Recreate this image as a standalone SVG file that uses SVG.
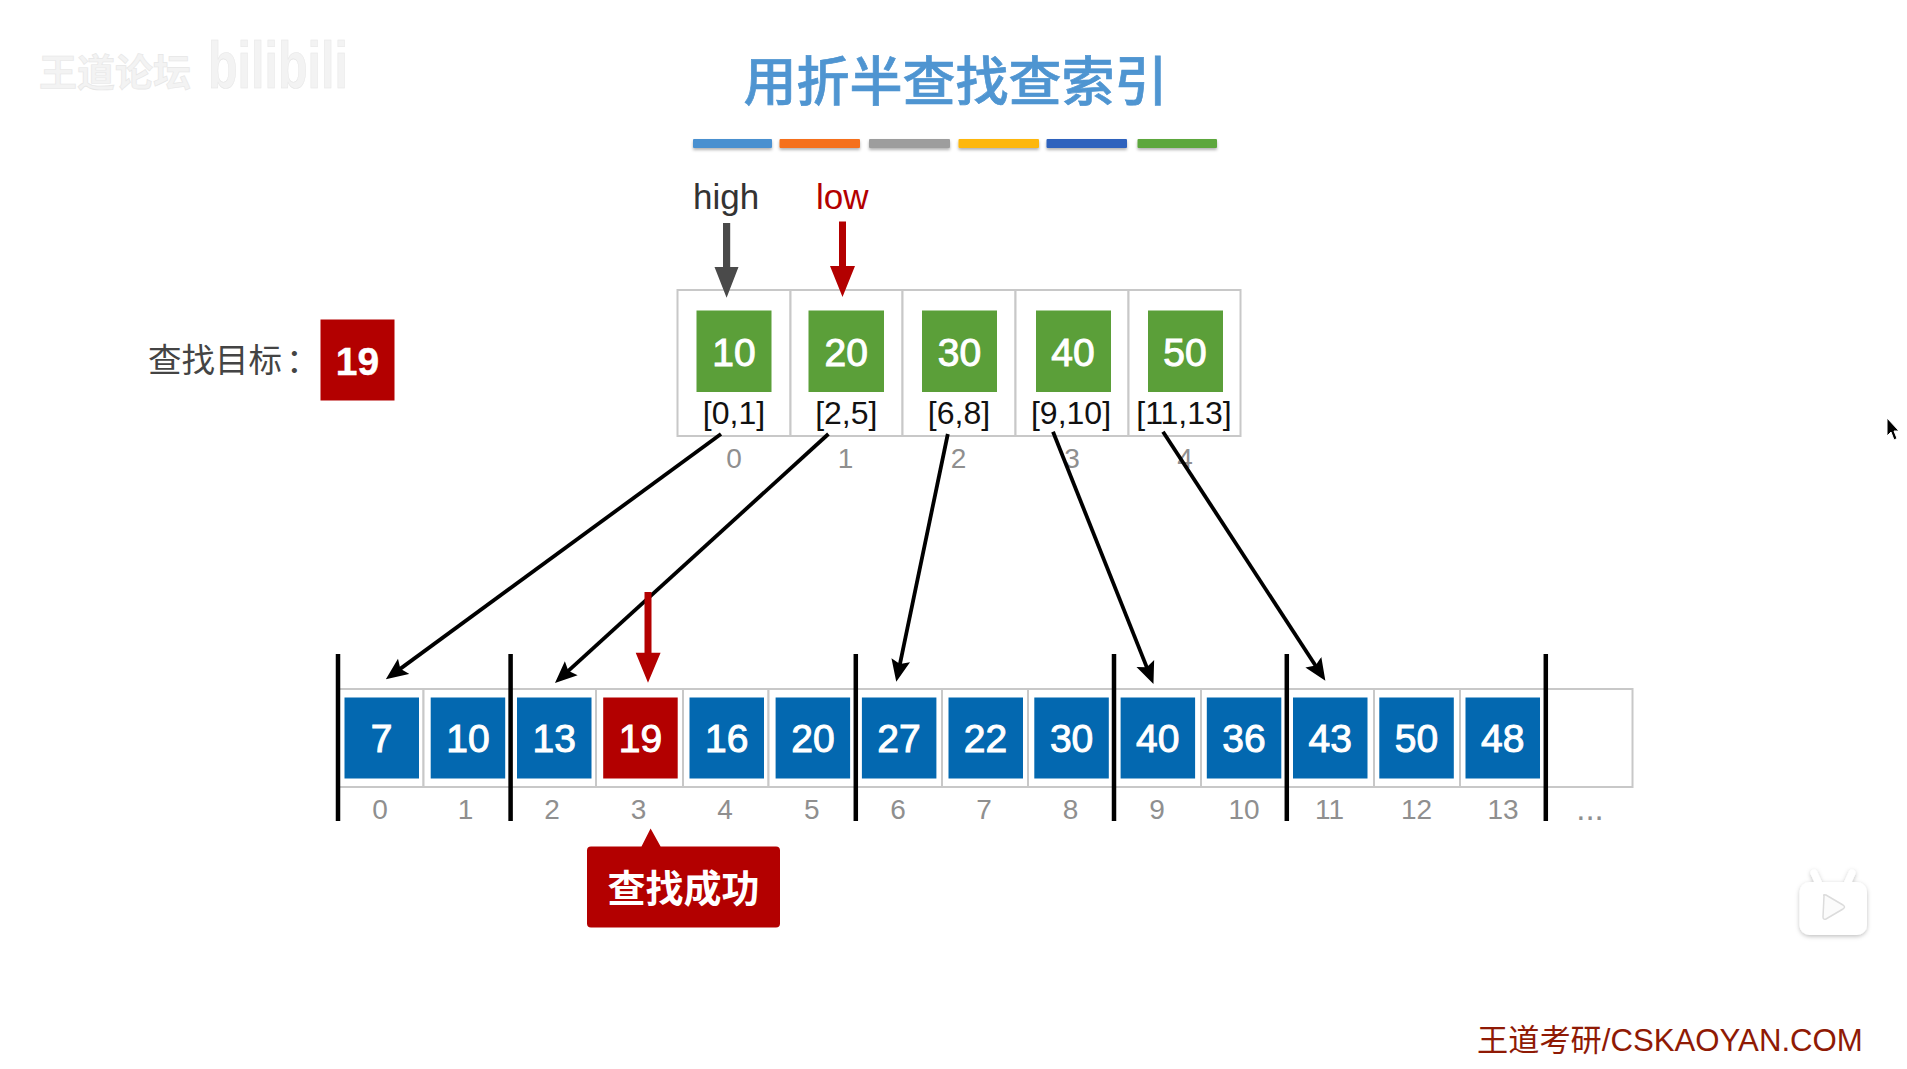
<svg xmlns="http://www.w3.org/2000/svg" width="1907" height="1069" viewBox="0 0 1907 1069">
<style>
text{font-family:"Liberation Sans","Noto Sans CJK SC",sans-serif}
.cjk{font-family:"Noto Sans CJK SC","Liberation Sans",sans-serif}
.cell{fill:#fff;stroke:#c8c8c8;stroke-width:2}
.g{fill:#5b9f39}
.b{fill:#0368b0}
.r{fill:#b30000}
.v{fill:#fff;stroke:#fff;stroke-width:1;font-size:39px;text-anchor:middle}
.rng{fill:#111;font-size:32px;text-anchor:middle}
.idx{fill:#8f8f8f;font-size:28px;text-anchor:middle}
.sep{stroke:#000;stroke-width:4.5;fill:none}
.link{stroke:#000;stroke-width:3.8;fill:none;marker-end:url(#head)}
.wm{fill:#f3f3f3;stroke:#e6e6e6;stroke-width:.6}
</style>
<defs>
<marker id="head" markerUnits="userSpaceOnUse" viewBox="0 -10 22 20" markerWidth="22" markerHeight="20" refX="14" refY="0" orient="auto">
<path d="M0,-9.5 L22,0 L0,9.5 L4,0 Z" fill="#000"/>
</marker>
<filter id="sh" x="-10%" y="-50%" width="120%" height="250%"><feDropShadow dx="0" dy="2" stdDeviation="1.5" flood-color="#000" flood-opacity=".3"/></filter>
<filter id="soft" x="-20%" y="-20%" width="140%" height="140%"><feDropShadow dx="0" dy="1.5" stdDeviation="2" flood-color="#000" flood-opacity=".25"/></filter>
</defs>
<rect width="1907" height="1069" fill="#fff"/>

<g id="watermark">
<text class="cjk wm" x="39" y="86" font-size="38" font-weight="bold">王道论坛</text>
<text class="wm" x="208" y="88" font-size="66" font-weight="bold" textLength="140" lengthAdjust="spacingAndGlyphs">bilibili</text>
</g>

<g id="title">
<text class="cjk" x="955.5" y="101" font-size="53" font-weight="500" fill="#4f95d1" stroke="#4f95d1" stroke-width=".7" text-anchor="middle">用折半查找查索引</text>
</g>

<g id="title-bars" filter="url(#sh)">
<rect x="693" y="139" width="79" height="9" rx="1" fill="#4a90d0"/>
<rect x="779.5" y="139" width="80.5" height="9" rx="1" fill="#f5701a"/>
<rect x="869" y="139" width="81" height="9" rx="1" fill="#9d9d9d"/>
<rect x="958.5" y="139" width="80.5" height="9" rx="1" fill="#fdb70d"/>
<rect x="1046.5" y="139" width="80.5" height="9" rx="1" fill="#2d62bd"/>
<rect x="1137.5" y="139" width="79.5" height="9" rx="1" fill="#5da73c"/>
</g>

<g id="target">
<text class="cjk" x="148" y="372" font-size="33.5" fill="#444">查找目标<tspan dx="4">：</tspan></text>
<rect x="320.5" y="319.5" width="74" height="81" class="r"/>
<text class="v" x="357.5" y="375" style="font-weight:bold;stroke-width:.4">19</text>
</g>

<g id="index-table">
<g id="idx-0"><rect class="cell" x="677.5" y="290" width="113" height="146"/><rect class="g" x="696.5" y="310.5" width="75" height="81.5"/><text class="v" x="734" y="366">10</text><text class="rng" x="734" y="424">[0,1]</text><text class="idx" x="734" y="468">0</text></g>
<g id="idx-1"><rect class="cell" x="790.5" y="290" width="112" height="146"/><rect class="g" x="808.5" y="310.5" width="75.5" height="81.5"/><text class="v" x="846.3" y="366">20</text><text class="rng" x="846.3" y="424">[2,5]</text><text class="idx" x="845.5" y="468">1</text></g>
<g id="idx-2"><rect class="cell" x="902.5" y="290" width="113" height="146"/><rect class="g" x="922" y="310.5" width="75" height="81.5"/><text class="v" x="959.5" y="366">30</text><text class="rng" x="959" y="424">[6,8]</text><text class="idx" x="958.5" y="468">2</text></g>
<g id="idx-3"><rect class="cell" x="1015.5" y="290" width="113" height="146"/><rect class="g" x="1036" y="310.5" width="75" height="81.5"/><text class="v" x="1073" y="366">40</text><text class="rng" x="1071" y="424">[9,10]</text><text class="idx" x="1072" y="468">3</text></g>
<g id="idx-4"><rect class="cell" x="1128.5" y="290" width="112" height="146"/><rect class="g" x="1148" y="310.5" width="75" height="81.5"/><text class="v" x="1185" y="366">50</text><text class="rng" x="1184" y="424">[11,13]</text><text class="idx" x="1185" y="468">4</text></g>
</g>

<g id="array">
<g id="a0"><rect class="cell" x="338" y="689" width="85.5" height="98"/><rect class="b" x="344.5" y="697.5" width="74.5" height="81"/><text class="v" x="381.7" y="752">7</text><text class="idx" x="380" y="819">0</text></g>
<g id="a1"><rect class="cell" x="423.5" y="689" width="87" height="98"/><rect class="b" x="430.7" y="697.5" width="74.5" height="81"/><text class="v" x="468" y="752">10</text><text class="idx" x="465.5" y="819">1</text></g>
<g id="a2"><rect class="cell" x="510.5" y="689" width="85.5" height="98"/><rect class="b" x="517" y="697.5" width="74.5" height="81"/><text class="v" x="554.2" y="752">13</text><text class="idx" x="552" y="819">2</text></g>
<g id="a3"><rect class="cell" x="596" y="689" width="87" height="98"/><rect class="r" x="603.2" y="697.5" width="74.5" height="81"/><text class="v" x="640.5" y="752">19</text><text class="idx" x="638.5" y="819">3</text></g>
<g id="a4"><rect class="cell" x="683" y="689" width="85.5" height="98"/><rect class="b" x="689.5" y="697.5" width="74.5" height="81"/><text class="v" x="726.7" y="752">16</text><text class="idx" x="725" y="819">4</text></g>
<g id="a5"><rect class="cell" x="768.5" y="689" width="87.5" height="98"/><rect class="b" x="775.6" y="697.5" width="74.5" height="81"/><text class="v" x="812.9" y="752">20</text><text class="idx" x="811.8" y="819">5</text></g>
<g id="a6"><rect class="cell" x="856" y="689" width="86" height="98"/><rect class="b" x="861.9" y="697.5" width="74.5" height="81"/><text class="v" x="899" y="752">27</text><text class="idx" x="898" y="819">6</text></g>
<g id="a7"><rect class="cell" x="942" y="689" width="86" height="98"/><rect class="b" x="948.5" y="697.5" width="74.5" height="81"/><text class="v" x="985.4" y="752">22</text><text class="idx" x="984" y="819">7</text></g>
<g id="a8"><rect class="cell" x="1028" y="689" width="86" height="98"/><rect class="b" x="1034.3" y="697.5" width="74.5" height="81"/><text class="v" x="1071.6" y="752">30</text><text class="idx" x="1070.5" y="819">8</text></g>
<g id="a9"><rect class="cell" x="1114" y="689" width="87" height="98"/><rect class="b" x="1120.6" y="697.5" width="74.5" height="81"/><text class="v" x="1157.8" y="752">40</text><text class="idx" x="1157" y="819">9</text></g>
<g id="a10"><rect class="cell" x="1201" y="689" width="86" height="98"/><rect class="b" x="1206.8" y="697.5" width="74.5" height="81"/><text class="v" x="1244" y="752">36</text><text class="idx" x="1244" y="819">10</text></g>
<g id="a11"><rect class="cell" x="1287" y="689" width="87" height="98"/><rect class="b" x="1293" y="697.5" width="74.5" height="81"/><text class="v" x="1330.3" y="752">43</text><text class="idx" x="1329.5" y="819">11</text></g>
<g id="a12"><rect class="cell" x="1374" y="689" width="86" height="98"/><rect class="b" x="1379.3" y="697.5" width="74.5" height="81"/><text class="v" x="1416.5" y="752">50</text><text class="idx" x="1416.5" y="819">12</text></g>
<g id="a13"><rect class="cell" x="1460" y="689" width="86" height="98"/><rect class="b" x="1465.5" y="697.5" width="74.5" height="81"/><text class="v" x="1502.8" y="752">48</text><text class="idx" x="1503" y="819">13</text></g>
<g id="a14"><rect class="cell" x="1546" y="689" width="86.5" height="98"/><text class="idx" x="1590" y="820" style="font-size:33px">...</text></g>
</g>

<g id="connectors">
<path class="sep" d="M338,654V821M510.6,654V821M855.8,654V821M1114,654V821M1286.8,654V821M1545.8,654V821"/>
<line class="link" x1="721" y1="434" x2="392.3" y2="674.6"/>
<line class="link" x1="828.4" y1="434" x2="560.9" y2="677.6"/>
<line class="link" x1="947.8" y1="434" x2="897.9" y2="673.9"/>
<line class="link" x1="1053" y1="431.7" x2="1150.5" y2="676.6"/>
<line class="link" x1="1163" y1="431.7" x2="1321" y2="674"/>
</g>

<g id="high">
<text x="693" y="209" font-size="35" fill="#333">high</text>
<path d="M723,223H730.2V267H738.5L726.6,297.7L714.5,267H723Z" fill="#4a4a4a"/>
</g>
<g id="low">
<text x="816" y="209" font-size="35" fill="#b30000">low</text>
<path d="M839,221.5H846V266H855L842.5,297L830,266H839Z" fill="#b30000"/>
</g>
<g id="pointer">
<path d="M644.5,592H651.5V652.7H660.6L648,682.7L635.7,652.7H644.5Z" fill="#b30000"/>
</g>

<g id="success">
<path d="M591,846.5H641.5L650.6,828.5L660.6,846.5H776a4,4 0 0 1 4,4V923.5a4,4 0 0 1 -4,4H591a4,4 0 0 1 -4,-4V850.5a4,4 0 0 1 4,-4Z" fill="#b30000"/>
<text class="cjk" x="683.5" y="902" font-size="38" font-weight="700" fill="#fff" text-anchor="middle">查找成功</text>
</g>

<g id="player-icon" filter="url(#soft)" fill="#fff">
<path d="M1819,884L1814,873M1847,884L1852,873" stroke="#fff" stroke-width="7" stroke-linecap="round"/>
<rect x="1799.5" y="882" width="67.5" height="53" rx="10"/>
<path d="M1824,896Q1823,894 1826,895L1843,905Q1846,907 1843,909L1826,919Q1823,920 1823,917Z" fill="#fbfbfb" stroke="#dcdcdc" stroke-width="1.5"/>
</g>

<g id="cursor">
<path d="M1887,418V436L1891,432L1894,440L1897,438.5L1894,431H1899Z" fill="#000" stroke="#fff" stroke-width="1"/>
</g>

<g id="footer">
<text x="1477" y="1051" font-size="31.2" fill="#8f1a05">王道考研/CSKAOYAN.COM</text>
</g>
</svg>
